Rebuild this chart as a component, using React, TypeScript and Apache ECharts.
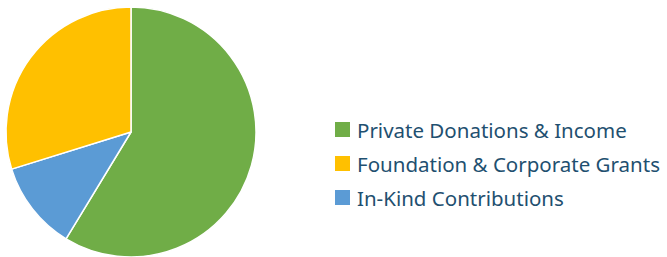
import React, { useEffect, useRef } from "react";
import * as echarts from "echarts";

const categories = ["Private Donations & Income", "In-Kind Contributions", "Foundation & Corporate Grants"];
const values = [58.7, 11.5, 29.8];
const colors = ["#70AD47", "#5B9BD5", "#FFC000"];
const legendOrder = ["Private Donations & Income", "Foundation & Corporate Grants", "In-Kind Contributions"];

export default function App() {
  const ref = useRef<HTMLDivElement>(null);
  useEffect(() => {
    document.body.style.margin = "0";
    const chart = echarts.init(ref.current!, null, { renderer: "svg" });
    chart.setOption({
      animation: false,
      legend: {
        orient: "vertical",
        left: 330,
        top: 114,
        itemWidth: 15,
        itemHeight: 15,
        itemGap: 13,
        icon: "rect",
        data: legendOrder,
        itemStyle: { borderWidth: 0 },
        textStyle: {
          fontFamily: "Noto Sans",
          fontSize: 20.5,
          color: "#1F5070",
          padding: [0, 0, 0, 2],
        },
      },
      series: [
        {
          type: "pie",
          center: [131, 132],
          radius: 125,
          startAngle: 90,
          clockwise: true,
          label: { show: false },
          labelLine: { show: false },
          emphasis: { disabled: true },
          itemStyle: { borderColor: "#ffffff", borderWidth: 1.5 },
          data: categories.map((name, i) => ({
            name,
            value: values[i],
            itemStyle: { color: colors[i] },
          })),
        },
      ],
    });
    return () => chart.dispose();
  }, []);
  return <div ref={ref} style={{ width: 667, height: 257 }} />;
}
